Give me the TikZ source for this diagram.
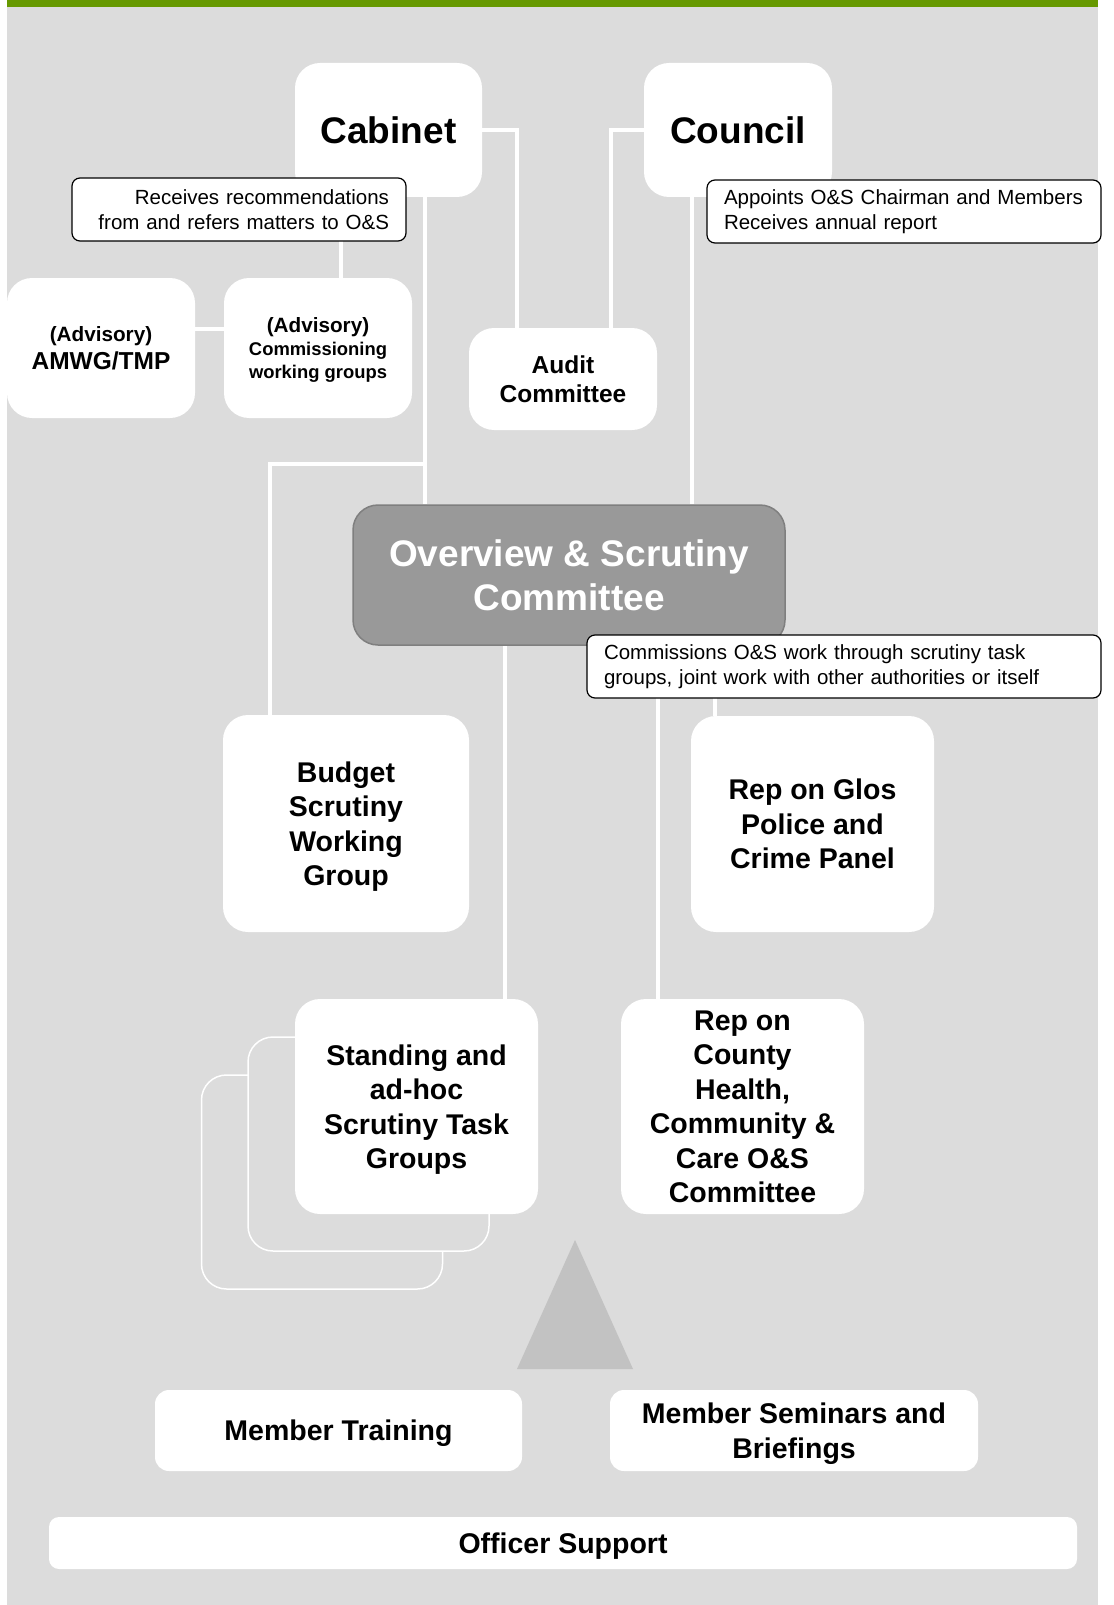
\documentclass[tikz,border=0pt]{standalone}
\usepackage{fontspec}
\setmainfont{Liberation Sans}
\definecolor{pagegray}{HTML}{DCDCDC}
\definecolor{topgreen}{HTML}{669900}
\definecolor{osgray}{HTML}{999999}
\definecolor{osedge}{HTML}{7F7F7F}
\definecolor{triangray}{HTML}{C2C2C2}

\begin{document}
\begin{tikzpicture}[x=1pt,y=-1pt,
		box/.style={fill=white, rounded corners=25pt, inner sep=0pt, text depth=0pt, align=center, font=\fontsize{28.5}{34.5}\selectfont\bfseries},
		boxsize/.style 2 args={minimum width=#1pt, minimum height=#2pt},
		ghost/.style={draw=white, line width=1.5pt, fill=pagegray, rounded corners=25pt, minimum width=241pt, minimum height=214pt},
		callout/.style={draw=black, line width=1.2pt, fill=white, rounded corners=8pt, inner xsep=17pt, inner ysep=0pt, minimum height=63pt, font=\fontsize{20.5}{24.6}\selectfont},
		link/.style={draw=white, line width=3.5pt}]
		\useasboundingbox (0,0) rectangle (1113,1605);
		\fill[pagegray] (7,0) rectangle (1098,1605);
		\fill[topgreen] (7,0) rectangle (1098,7);
		
		\node[ghost] (ghostB) at (322,1182) {};
		\node[ghost] (ghostA) at (368.5,1144) {};
		
		\node[box, boxsize={187}{134}, font=\fontsize{37}{44}\selectfont\bfseries] (cabinet) at (388.5,130) {Cabinet};
		\node[box, boxsize={188}{134}, font=\fontsize{37}{44}\selectfont\bfseries] (council) at (738,130) {Council};
		\node[box, boxsize={188}{140}, font=\fontsize{24.5}{27.6}\selectfont\bfseries] (amwg) at (101,348) {{\fontsize{20.7}{23}\selectfont(Advisory)}\\AMWG/TMP};
		\node[box, boxsize={188}{140}, font=\fontsize{18.4}{23}\selectfont\bfseries] (commwg) at (318,348) {{\fontsize{20.7}{23}\selectfont(Advisory)}\\Commissioning\\working groups};
		\node[box, boxsize={188}{102}, font=\fontsize{24.5}{28.7}\selectfont\bfseries] (audit) at (563,379) {Audit\\Committee};
		\node[box, boxsize={432}{140}, fill=osgray, draw=osedge, line width=1.5pt, text=white, font=\fontsize{37}{44}\selectfont\bfseries] (os) at (569,575) {Overview \& Scrutiny\\Committee};
		\node[box, boxsize={246}{217}] (budget) at (346,823.5) {Budget\\Scrutiny\\Working\\Group};
		\node[box, boxsize={243}{216}] (glos) at (812.5,824) {Rep on Glos\\Police and\\Crime Panel};
		\node[box, boxsize={243}{215}] (standing) at (416.5,1106.5) {Standing and\\ad-hoc\\Scrutiny Task\\Groups};
		\node[box, boxsize={243}{215}] (county) at (742.5,1106.5) {Rep on\\County\\Health,\\Community \&\\Care O\&S\\Committee};
		\node[box, boxsize={367}{81}, rounded corners=14pt] (training) at (338.5,1430.5) {Member Training};
		\node[box, boxsize={368}{81}, rounded corners=14pt] (seminars) at (794,1430.5) {Member Seminars and\\Briefings};
		\node[box, boxsize={1028}{52}, rounded corners=10pt] (officer) at (563,1543) {Officer Support};
		
		\fill[triangray] (575,1240) -- (633,1369) -- (517,1369) -- cycle;
		
		\coordinate (split) at (425,464);
		\path[link] (cabinet.east) -| ([xshift=-46pt]audit.north)
			(council.west) -| ([xshift=48pt]audit.north)
			([xshift=36.5pt]cabinet.south) -- ([xshift=36.5pt]cabinet.south |- os.north)
			(split) -| ([xshift=-76pt]budget.north)
			([xshift=23pt]commwg.north) -- ([xshift=23pt]commwg.north |- cabinet.south)
			([yshift=19pt]amwg.east) -- ([yshift=19pt]commwg.west)
			([xshift=-46pt]council.south) -- ([xshift=-46pt]council.south |- os.north)
			([xshift=88.5pt]standing.north) -- ([xshift=88.5pt]standing.north |- os.south)
			([xshift=-84.5pt]county.north) -- ([xshift=-84.5pt]county.north |- os.south)
			([xshift=-97.5pt]glos.north) -- ([xshift=-97.5pt]glos.north |- os.south);
		
		\node[callout, text width=300pt, align=right] (cabnote) at (239,209.5) {Receives recommendations\\from and refers matters to O\&S};
		\node[callout, text width=360pt, align=left] (counnote) at (904,211.5) {Appoints O\&S Chairman and Members\\Receives annual report};
		\node[callout, text width=480pt, align=left] (osnote) at (844,666.5) {Commissions O\&S work through scrutiny task\\groups, joint work with other authorities or itself};
	\end{tikzpicture}
\end{document}
